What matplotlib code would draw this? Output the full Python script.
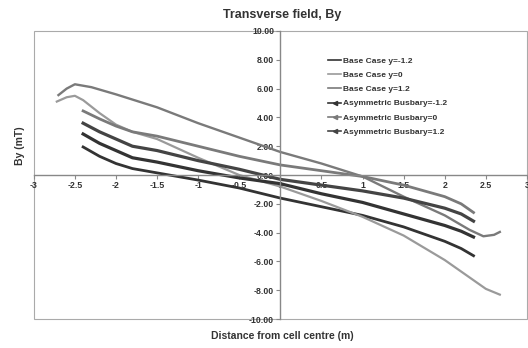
import matplotlib.pyplot as plt
from matplotlib.lines import Line2D
from matplotlib.patches import Rectangle

plt.rcParams['font.family'] = ['Liberation Sans', 'DejaVu Sans']

# Distance from cell centre (m) / By (mT)
x_short = [-2.4, -2.2, -2.0, -1.8, -1.5, -1.0, -0.5, 0.0, 0.5, 1.0, 1.5, 2.0, 2.2, 2.35]

by_base_m12 = [1.95, 1.3, 0.8, 0.45, 0.15, -0.35, -0.9, -1.6, -2.2, -2.8, -3.6, -4.6, -5.1, -5.6]

x_base_0 = [-2.72, -2.6, -2.5, -2.4, -2.2, -2.0, -1.8, -1.5, -1.0, -0.5, 0.0, 0.5, 1.0, 1.5, 2.0, 2.3, 2.5, 2.67]
by_base_0 = [5.1, 5.4, 5.5, 5.2, 4.3, 3.5, 3.0, 2.5, 1.2, 0.0, -0.8, -1.8, -2.9, -4.2, -5.9, -7.1, -7.9, -8.3]

x_base_12 = [-2.7, -2.6, -2.5, -2.3, -2.0, -1.5, -1.0, -0.5, 0.0, 0.5, 1.0, 1.5, 2.0, 2.3, 2.47, 2.6, 2.67]
by_base_12 = [5.55, 6.0, 6.3, 6.1, 5.6, 4.7, 3.6, 2.6, 1.6, 0.8, -0.1, -1.5, -2.8, -3.8, -4.25, -4.15, -3.95]

by_asym_m12 = [2.85, 2.2, 1.7, 1.2, 0.9, 0.3, -0.2, -0.6, -1.3, -1.9, -2.7, -3.5, -3.9, -4.3]
by_asym_0 = [4.45, 3.9, 3.4, 3.0, 2.7, 2.0, 1.3, 0.7, 0.3, -0.1, -0.7, -1.5, -2.0, -2.6]
by_asym_12 = [3.6, 3.0, 2.5, 2.0, 1.7, 1.0, 0.4, -0.3, -0.7, -1.1, -1.6, -2.3, -2.7, -3.2]

labels = ['Base Case y=-1.2', 'Base Case y=0', 'Base Case y=1.2',
          'Asymmetric Busbary=-1.2', 'Asymmetric Busbary=0', 'Asymmetric Busbary=1.2']

x_ticks = [-3, -2.5, -2, -1.5, -1, -0.5, 0, 0.5, 1, 1.5, 2, 2.5, 3]
x_tick_labels = ['-3', '-2.5', '-2', '-1.5', '-1', '-0.5', '0', '0.5', '1', '1.5', '2', '2.5', '3']
y_ticks = [-10, -8, -6, -4, -2, 0, 2, 4, 6, 8, 10]

fig = plt.figure(figsize=(5.28, 3.48), dpi=100)
ax = fig.add_axes([0.064, 0.083, 0.934, 0.828])

dark = '#333333'
mid = '#7a7a7a'
light = '#9a9a9a'

ax.plot(x_short, by_base_m12, color=dark, lw=2.0)
ax.plot(x_base_0, by_base_0, color=light, lw=1.6)
ax.plot(x_base_12, by_base_12, color=mid, lw=1.7)
ax.plot(x_short, by_asym_m12, color=dark, lw=2.3)
ax.plot(x_short, by_asym_0, color=mid, lw=2.0)
ax.plot(x_short, by_asym_12, color='#444444', lw=2.3)

ax.set_xlim(-3, 3)
ax.set_ylim(-10, 10)
ax.spines['left'].set_position(('data', 0))
ax.spines['bottom'].set_position(('data', 0))
ax.spines['top'].set_visible(False)
ax.spines['right'].set_visible(False)
for s in ['left', 'bottom']:
    ax.spines[s].set_color('#888888')
    ax.spines[s].set_linewidth(1.0)

ax.set_xticks(x_ticks)
ax.set_xticklabels(x_tick_labels)
ax.set_yticks(y_ticks)
ax.set_yticklabels(['%.2f' % v for v in y_ticks])
ax.tick_params(axis='both', direction='out', length=3, color='#888888',
               labelsize=6.3, labelcolor='#333333', pad=1.5)
for t in ax.get_xticklabels() + ax.get_yticklabels():
    t.set_fontweight('bold')

# plot area border
ax.add_patch(Rectangle((0, 0), 1, 1, transform=ax.transAxes, fill=False,
                       edgecolor='#aaaaaa', lw=0.8, clip_on=False))

fig.text(0.535, 0.957, 'Transverse field, By', ha='center', va='center',
         fontsize=9, fontweight='bold', color='#333333')
fig.text(0.535, 0.035, 'Distance from cell centre (m)', ha='center', va='center',
         fontsize=7.5, fontweight='bold', color='#333333')
fig.text(0.038, 0.58, 'By (mT)', ha='center', va='center', rotation=90,
         fontsize=7.5, fontweight='bold', color='#333333')

handles = [
    Line2D([], [], color=dark, lw=1.2),
    Line2D([], [], color=light, lw=1.2),
    Line2D([], [], color=mid, lw=1.2),
    Line2D([], [], color=dark, lw=1.2, marker='<', markersize=3),
    Line2D([], [], color=mid, lw=1.2, marker='<', markersize=3),
    Line2D([], [], color='#444444', lw=1.2, marker='<', markersize=3),
]
leg = ax.legend(handles, labels, loc='upper left', bbox_to_anchor=(0.59, 0.92),
                frameon=False, fontsize=6, handlelength=1.6, handletextpad=0.2,
                labelspacing=0.75, borderaxespad=0)
for t in leg.get_texts():
    t.set_color('#333333')
    t.set_fontweight('bold')

fig.savefig('out.png', dpi=100)
